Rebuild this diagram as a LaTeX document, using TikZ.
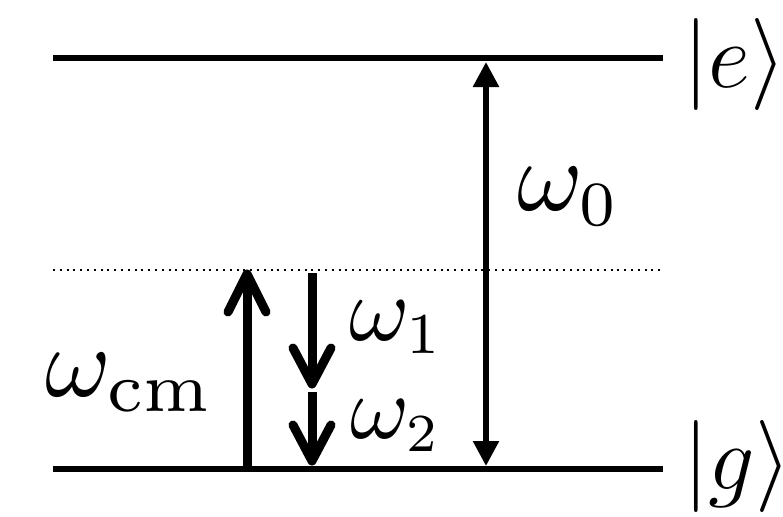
\documentclass[tikz,border=0pt]{standalone}
\usepackage{fix-cm}
\usetikzlibrary{arrows.meta}
\newcommand{\omlab}[3]{\scalebox{#1}{\fontsize{10}{10}\selectfont$\omega_{\mbox{\scalebox{#2}{\fontsize{7}{7}\selectfont$#3$}}}$}}
\begin{document}
\begin{tikzpicture}[x=0.5pt,y=-0.5pt,
  level/.style={line width=3pt},
  virt/.style={line width=1pt,dash pattern=on 1pt off 2.4pt},
  shaft/.style={line width=4.5pt},
  vhead/.style={line width=4.5pt,line cap=round,line join=round},
  dbl/.style={line width=2.8pt,{Triangle[length=12.5pt,width=12.5pt]}-{Triangle[length=12.5pt,width=12.5pt]}},
  lab/.style={inner sep=0pt,anchor=base west}]
\useasboundingbox (0,0) rectangle (783,516);
% levels
\coordinate (eL) at (53,58);  \coordinate (eR) at (663,58);
\coordinate (gL) at (53,469); \coordinate (gR) at (663,469);
\coordinate (vL) at (53,270); \coordinate (vR) at (663,270);
\draw[level] (eL) -- (eR);
\draw[level] (gL) -- (gR);
\draw[virt] (vL) -- (vR);
% kets
\node[lab] (ket-e) at (683,87) {\fontsize{46}{46}\selectfont$|e\rangle$};
\node[lab] (ket-g) at (683,489) {\fontsize{46}{46}\selectfont$|g\rangle$};
% omega_0 double arrow
\coordinate (w0B) at (486,466); \coordinate (w0T) at (486,62);
\draw[dbl] (w0B) -- (w0T);
\node[lab] (w0) at (517,210) {\omlab{5}{0.9}{0}};
% omega_cm up arrow
\coordinate (cmB) at (247,469); \coordinate (cmT) at (247,274);
\draw[shaft] (cmB) -- (cmT);
\draw[vhead] (cmT) ++(-19,38) -- (cmT) -- ++(19,38);
\node[lab] (wcm) at (45,396) {\omlab{5}{1.0}{\mathrm{cm}}};
% omega_1 down arrow
\coordinate (a1T) at (312,273); \coordinate (a1B) at (312,384);
\draw[shaft] (a1T) -- (a1B);
\draw[vhead] (a1B) ++(-19,-36) -- (a1B) -- ++(19,-36);
\node[lab] (w1) at (349,340) {\omlab{4.6}{0.9}{1}};
% omega_2 down arrow
\coordinate (a2T) at (312,392); \coordinate (a2B) at (312,461);
\draw[shaft] (a2T) -- (a2B);
\draw[vhead] (a2B) ++(-19,-36) -- (a2B) -- ++(19,-36);
\node[lab] (w2) at (350,438) {\omlab{4.5}{0.85}{2}};
\end{tikzpicture}
\end{document}
